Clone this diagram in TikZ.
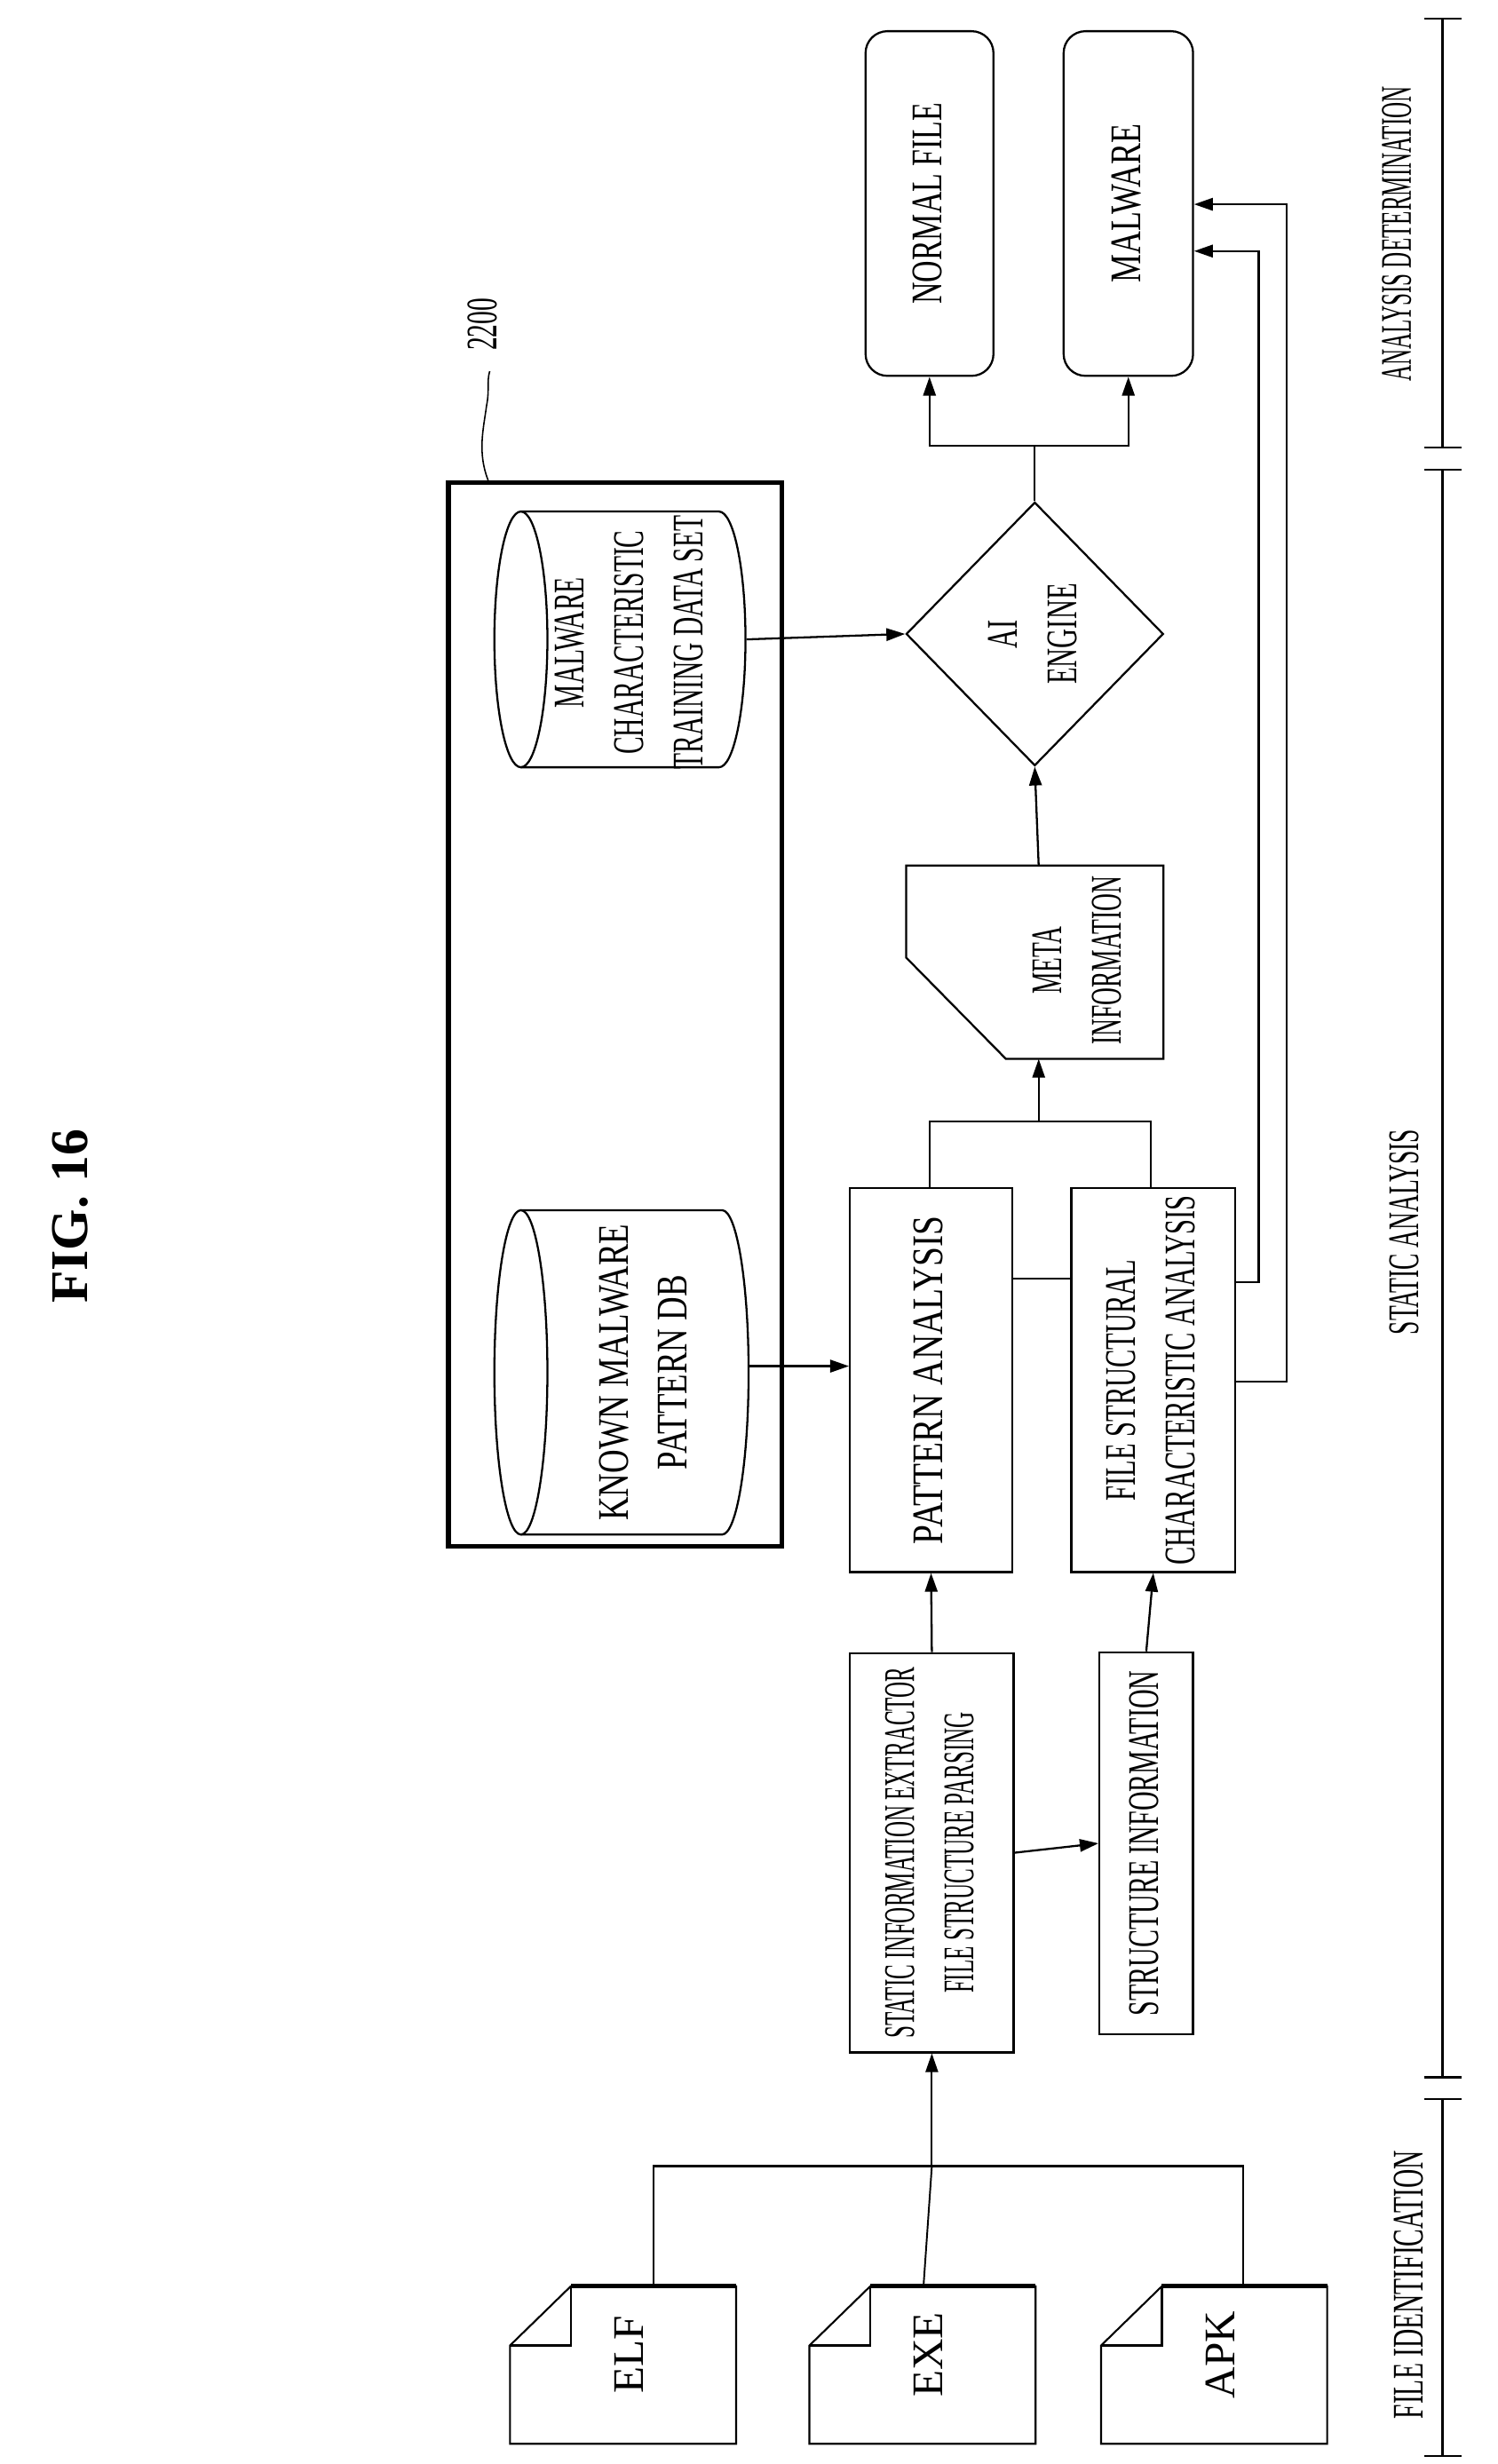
\documentclass[tikz,border=0pt]{standalone}
\usepackage{fontspec}
\setmainfont{Liberation Serif}
\usetikzlibrary{shapes.geometric,arrows.meta}
\newcommand\cz[2][0.6]{\scalebox{#1}[1]{\begin{tabular}{@{}c@{}}#2\end{tabular}}}
\begin{document}
\begin{tikzpicture}[x=1pt,y=-1pt,
  line width=1.3pt,
  box/.style={draw,rectangle,inner sep=0pt},
  txt/.style={rotate=90,inner sep=0pt,font=\fontsize{28}{38}\selectfont},
  arr/.style={-{Triangle[length=12pt,width=8pt]}},
  con/.style={line width=1.1pt}]
\useasboundingbox (0,0) rectangle (960,1580);
\node[rotate=90,font=\fontsize{34}{40}\selectfont\bfseries] (title) at (45,780) {FIG. 16};

% files
\foreach \n/\t/\x in {elf/ELF/327,exe/EXE/519,apk/APK/706}{
  \node[inner sep=0,minimum width=145,minimum height=101,anchor=north west] (\n) at (\x,1466) {};
  \draw[line width=1.2pt] (\x+39,1466) -- (\x+145,1466) -- (\x+145,1567) -- (\x,1567) -- (\x,1504) -- cycle;
  \draw[line width=1.2pt] (\x,1504) -- (\x+39,1504) -- (\x+39,1466);
  \draw[line width=3pt] (\x+39,1466) -- (\x+145,1466);
  \node[txt] at (\x+78,1510) {\cz[1.0]{\t}};
}
% extractor and structure info
\node[box,minimum width=105,minimum height=256] (ext) at (597.5,1188) {};
\node[txt] at (ext) {\cz[0.51]{STATIC INFORMATION EXTRACTOR\\FILE STRUCTURE PARSING}};
\node[box,minimum width=60,minimum height=245] (sinfo) at (735,1182) {};
\node[txt] at (sinfo) {\cz[0.61]{STRUCTURE INFORMATION}};

\coordinate (bus) at (597.5,1389);
\draw (elf.north -| 419,0) |- (797,1389) -- (apk.north -| 797,0);
\draw[con] (exe.north) -- (bus);
\draw[arr,con] (bus) -- (ext.south);
\draw[arr] (ext.east) -- (sinfo.west);

% analyses
\node[box,minimum width=104,minimum height=246] (pat) at (597,885) {};
\node[txt] at (pat) {\cz[0.8]{PATTERN ANALYSIS}};
\node[box,minimum width=105,minimum height=246] (fsa) at (739.5,885) {};
\node[txt] at (fsa) {\cz[0.62]{FILE STRUCTURAL\\CHARACTERISTIC ANALYSIS}};
\draw[arr] (ext.north) -- (pat.south);
\draw[arr] (sinfo.north) -- (fsa.south);
\draw[con] (pat.east |- 0,820) -- (fsa.west |- 0,820);

% meta
\node[inner sep=0,minimum width=165,minimum height=124] (meta) at (663.5,616.5) {};
\draw (581,555) -- (746,555) -- (746,679) -- (645,679) -- (581,614) -- cycle;
\node[txt] at (692,616) {\cz[0.56]{META\\INFORMATION}};
\coordinate (mj) at (666,719);
\draw (596,762) |- (738,719) -- (738,762);
\draw[arr] (mj) -- (666,679);

% AI engine
\node[draw,diamond,inner sep=0,minimum width=165,minimum height=169] (ai) at (663.5,406.5) {};
\node[txt] at (ai) {\cz[0.62]{AI\\ENGINE}};
\draw[arr] (666,555) -- (ai.south);

% outputs
\node[box,rounded corners=14,minimum width=82,minimum height=221] (norm) at (596,130.5) {};
\node[txt] at (norm) {\cz[0.69]{NORMAL FILE}};
\node[box,rounded corners=14,minimum width=83,minimum height=221] (mal) at (723.5,130.5) {};
\node[txt] at (mal) {\cz[0.73]{MALWARE}};
\coordinate (oj) at (663.5,286);
\draw (ai.north) -- (oj);
\draw[arr] (oj) -| (norm.south);
\draw[arr] (oj) -| (mal.south);
\draw[arr] (fsa.east |- 0,822) -| (807,161) -- (mal.east |- 0,161);
\draw[arr] (fsa.east |- 0,886) -| (825,131) -- (mal.east |- 0,131);

% 2200 group
\node[draw,line width=3pt,inner sep=0,minimum width=214,minimum height=682,anchor=north west] (grp) at (286,308) {};
\draw[line width=0.9pt] (313,308) .. controls (306,290) and (310,275) .. (312,260) .. controls (314,250) and (312,245) .. (314,238);
\node[txt,anchor=center] (lbl) at (311,208) {\cz[0.6]{2200}};

% cylinders
\node[inner sep=0,minimum width=161,minimum height=164] (train) at (397.5,410) {};
\draw (334,328) -- (461,328) arc[start angle=90,end angle=-90,x radius=17pt,y radius=82pt] -- (334,492);
\draw (334,410) ellipse[x radius=17pt,y radius=82pt];
\node[txt] at (405,412) {\cz[0.6]{MALWARE\\CHARACTERISTIC\\TRAINING DATA SET}};
\draw[arr] (train.east) -- (ai.west);

\node[inner sep=0,minimum width=163,minimum height=208] (known) at (398.5,880) {};
\draw (334,776) -- (463,776) arc[start angle=90,end angle=-90,x radius=17pt,y radius=104pt] -- (334,984);
\draw (334,880) ellipse[x radius=17pt,y radius=104pt];
\node[txt] at (414,880) {\cz[0.75]{KNOWN MALWARE\\PATTERN DB}};
\draw[arr] (known.east |- 0,876) -- (pat.west |- 0,876);

% stage axis
\draw[line width=1.8pt] (925,12) -- (925,287);
\draw[line width=1.8pt] (925,301) -- (925,1332);
\draw[line width=1.8pt] (925,1346) -- (925,1575);
\foreach \y in {12,287,301,1332,1346,1575} \draw[line width=1.2pt] (913,\y) -- (937,\y);
\node[txt] (s1) at (897,150) {\cz[0.51]{ANALYSIS DETERMINATION}};
\node[txt] (s2) at (902,790) {\cz[0.56]{STATIC ANALYSIS}};
\node[txt] (s3) at (905,1465) {\cz[0.6]{FILE IDENTIFICATION}};
\end{tikzpicture}
\end{document}
